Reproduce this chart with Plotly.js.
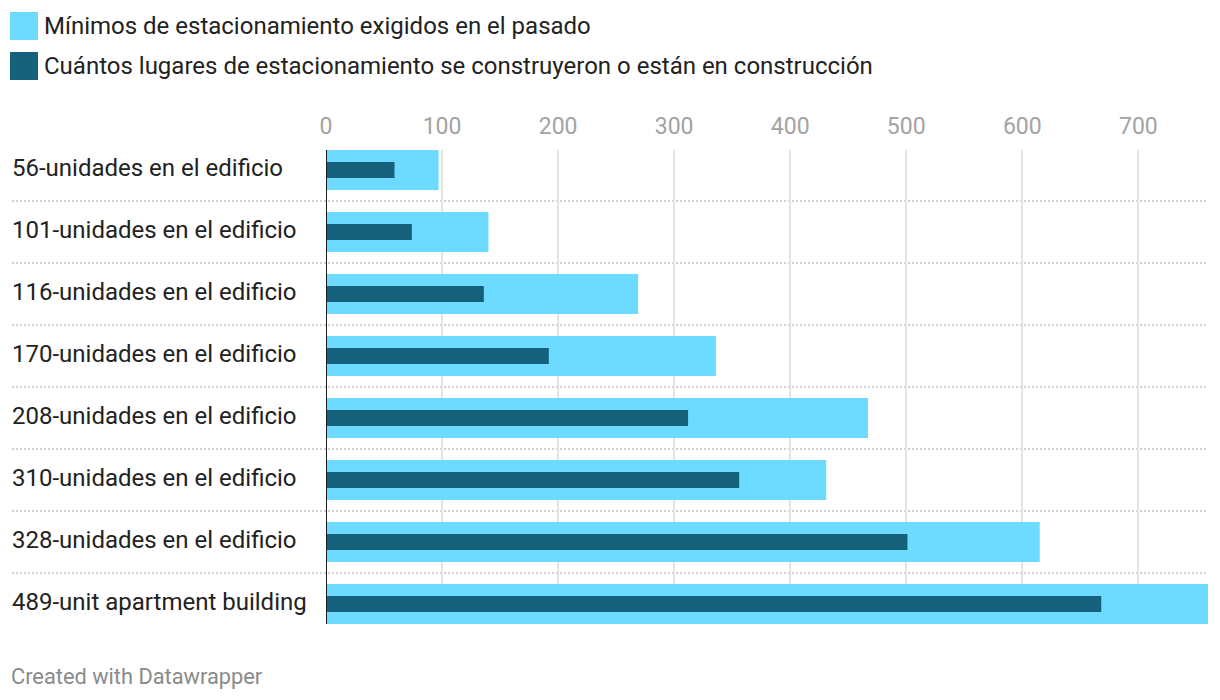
<!DOCTYPE html>
<html>
<head>
<meta charset="utf-8">
<script src="https://cdn.plot.ly/plotly-3.0.1.min.js"></script>
<style>
  html, body { margin: 0; padding: 0; background: #ffffff; }
  #chart { width: 1220px; height: 700px; }
</style>
</head>
<body>
<div id="chart"></div>
<script>
// ---- data ----
const categories = [
  "56-unidades en el edificio",
  "101-unidades en el edificio",
  "116-unidades en el edificio",
  "170-unidades en el edificio",
  "208-unidades en el edificio",
  "310-unidades en el edificio",
  "328-unidades en el edificio",
  "489-unit apartment building"
];
const seriesNames = [
  "Mínimos de estacionamiento exigidos en el pasado",
  "Cuántos lugares de estacionamiento se construyeron o están en construcción"
];
const requiredMinimums = [97, 140, 269, 336, 467, 431, 615, 760];
const builtSpaces = [59, 74, 136, 192, 312, 356, 501, 668];
const tickValues = [0, 100, 200, 300, 400, 500, 600, 700];

// ---- styling ----
const lightColor = "#6ddaff";
const darkColor = "#15607a";
const fontFamily = "Roboto, 'Noto Sans', sans-serif";

// pixel helpers (plot area: x 326..1208, y 150..624)
const L = 326, R = 12, T = 150, B = 76, W = 1220, H = 700;
const PW = W - L - R, PH = H - T - B;
const px = v => (v - L) / PW;
const py = v => (H - B - v) / PH;

const traces = [
  {
    type: "bar", orientation: "h",
    y: categories, x: requiredMinimums,
    name: seriesNames[0],
    marker: { color: lightColor },
    width: 40 / 62,
    hoverinfo: "x+name", showlegend: false
  },
  {
    type: "bar", orientation: "h",
    y: categories, x: builtSpaces,
    name: seriesNames[1],
    marker: { color: darkColor },
    width: 16 / 62,
    hoverinfo: "x+name", showlegend: false
  }
];

const shapes = [];
// dotted row separators
for (let k = 0; k < categories.length - 1; k++) {
  shapes.push({
    type: "line", xref: "paper", yref: "y",
    x0: px(12), x1: 1, y0: k + 0.5, y1: k + 0.5,
    line: { color: "#d0d0d0", width: 2, dash: "2px,2px" },
    layer: "below"
  });
}
// baseline at zero
shapes.push({
  type: "line", xref: "x", yref: "paper",
  x0: 0, x1: 0, y0: 0, y1: 1,
  line: { color: "#1d1d1d", width: 2 },
  layer: "above"
});
// legend swatches
const swatchColors = [lightColor, darkColor];
const swatchTops = [12, 52];
swatchTops.forEach((t, i) => {
  shapes.push({
    type: "rect", xref: "paper", yref: "paper",
    x0: px(10), x1: px(38), y0: py(t + 28), y1: py(t),
    fillcolor: swatchColors[i], line: { width: 0 }
  });
});

const annotations = [];
categories.forEach(c => {
  annotations.push({
    xref: "paper", yref: "y", x: px(10), y: c,
    xanchor: "left", yanchor: "middle", showarrow: false, yshift: 2,
    text: c, font: { family: fontFamily, size: 24, color: "#222222" }
  });
});
seriesNames.forEach((n, i) => {
  annotations.push({
    xref: "paper", yref: "paper", x: px(42), y: py(swatchTops[i] + 14),
    xanchor: "left", yanchor: "middle", showarrow: false,
    text: n, font: { family: fontFamily, size: 24, color: "#222222" }
  });
});
annotations.push({
  xref: "paper", yref: "paper", x: px(9), y: py(676),
  xanchor: "left", yanchor: "middle", showarrow: false,
  text: "Created with Datawrapper",
  font: { family: fontFamily, size: 21.8, color: "#8a8a8a" }
});

const layout = {
  width: W, height: H,
  margin: { l: L, r: R, t: T, b: B, pad: 0 },
  paper_bgcolor: "#ffffff", plot_bgcolor: "#ffffff",
  barmode: "overlay",
  showlegend: false,
  font: { family: fontFamily },
  xaxis: {
    side: "top",
    range: [0, 760],
    tickvals: tickValues,
    ticktext: tickValues.map(String),
    showgrid: true, gridcolor: "#e3e3e3", gridwidth: 2,
    zeroline: false, showline: false,
    ticks: "", ticklen: 0,
    ticklabelstandoff: 10,
    tickfont: { family: fontFamily, size: 23, color: "#a3a3a3" },
    fixedrange: true
  },
  yaxis: {
    type: "category",
    categoryorder: "array", categoryarray: categories,
    range: [categories.length - 1 + 20 / 62, -20 / 62],
    autorange: false,
    showticklabels: false, showgrid: false, zeroline: false, showline: false,
    ticks: "", fixedrange: true
  },
  shapes: shapes,
  annotations: annotations
};

Plotly.newPlot("chart", traces, layout, { displayModeBar: false, staticPlot: true });
</script>
</body>
</html>
